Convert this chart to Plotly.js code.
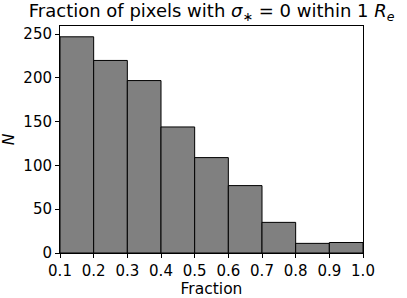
<!DOCTYPE html>
<html>
<head>
<meta charset="utf-8">
<script src="https://cdn.plot.ly/plotly-3.0.1.min.js"></script>
<style>html,body{margin:0;padding:0;background:#fff;}#chart{width:407px;height:298px;}</style>
</head>
<body>
<div id="chart"></div>
<script>
var binEdges = [0.1, 0.2, 0.3, 0.4, 0.5, 0.6, 0.7, 0.8, 0.9, 1.0];
var counts = [247, 220, 197, 144, 109, 77, 35, 11, 12];
var xTickVals = [0.1, 0.2, 0.3, 0.4, 0.5, 0.6, 0.7, 0.8, 0.9, 1.0];
var yTickVals = [0, 50, 100, 150, 200, 250];

var centers = [], widths = [];
for (var i = 0; i < counts.length; i++) {
  centers.push((binEdges[i] + binEdges[i + 1]) / 2);
  widths.push(binEdges[i + 1] - binEdges[i]);
}
var ymax = Math.max.apply(null, counts) * 1.05;
var font = "DejaVu Sans, sans-serif";

Plotly.newPlot('chart', [{
  type: 'bar',
  x: centers,
  y: counts,
  width: widths,
  marker: {color: '#808080', line: {color: '#000000', width: 1}},
  hoverinfo: 'skip'
}], {
  width: 407, height: 298,
  margin: {l: 59.5, r: 43.5, t: 26, b: 45.3, pad: 0},
  paper_bgcolor: '#fff', plot_bgcolor: '#fff',
  showlegend: false,
  bargap: 0,
  font: {family: font, color: '#000', size: 15},
  title: {
    text: 'Fraction of pixels with <i>σ</i><sub>∗</sub> = 0 within 1 <i>R</i><sub><i>e</i></sub>',
    font: {family: font, size: 18, color: '#000'},
    x: 0.52, xanchor: 'center', y: 0.985, yanchor: 'top'
  },
  xaxis: {
    range: [binEdges[0], binEdges[binEdges.length - 1]],
    tickvals: xTickVals, tickformat: '.1f',
    ticks: 'outside', ticklen: 4, tickwidth: 1, tickcolor: '#000',
    showline: true, linecolor: '#000', linewidth: 1, mirror: true,
    showgrid: false, zeroline: false,
    tickfont: {family: font, size: 15, color: '#000'},
    title: {text: 'Fraction', font: {family: font, size: 15.5, color: '#000'}, standoff: 1}
  },
  yaxis: {
    range: [0, ymax],
    tickvals: yTickVals,
    ticks: 'outside', ticklen: 4, tickwidth: 1, tickcolor: '#000',
    showline: true, linecolor: '#000', linewidth: 1, mirror: true,
    showgrid: false, zeroline: false,
    tickfont: {family: font, size: 15, color: '#000'},
    title: {text: '<i>N</i>', font: {family: font, size: 15.5, color: '#000'}, standoff: 6}
  }
}, {staticPlot: true, displayModeBar: false});
</script>
</body>
</html>
